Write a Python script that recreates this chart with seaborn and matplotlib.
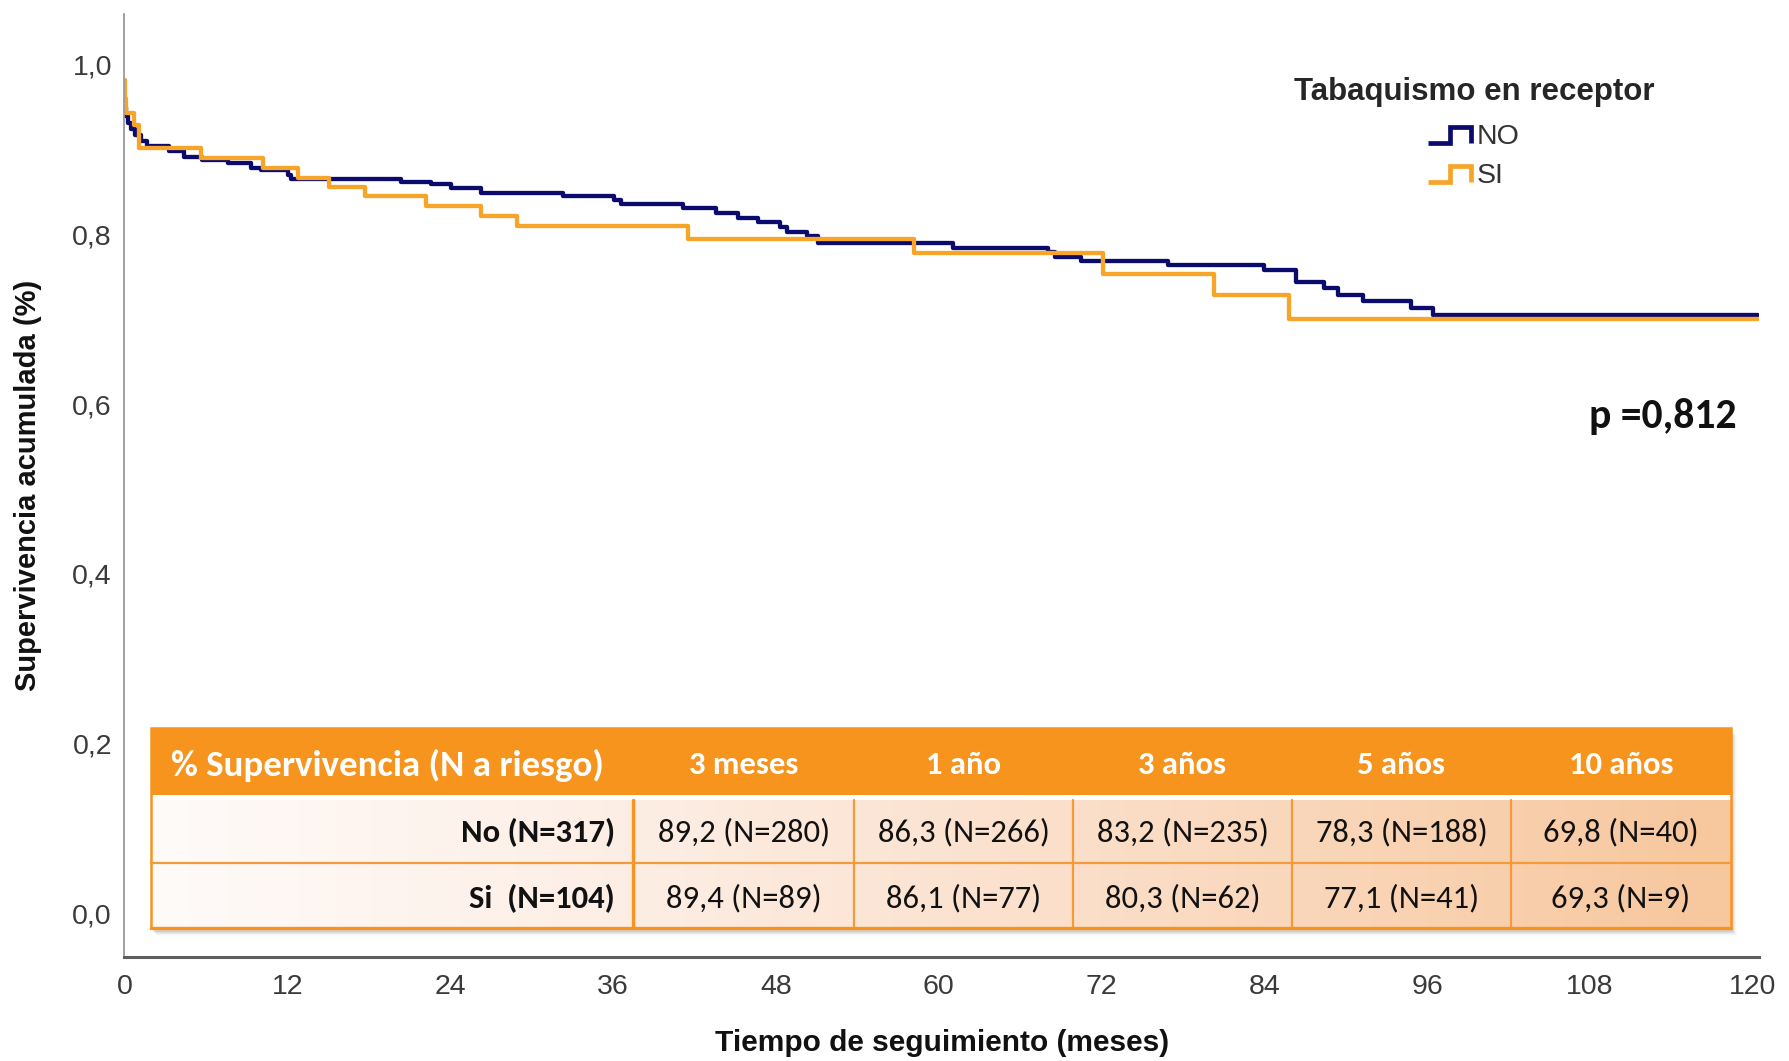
import numpy as np
import pandas as pd
import matplotlib
matplotlib.use("Agg")
import matplotlib.pyplot as plt
import seaborn as sns
from matplotlib.lines import Line2D
from matplotlib.patches import Rectangle
from matplotlib.legend_handler import HandlerBase
from matplotlib.ticker import FuncFormatter
from matplotlib import font_manager

# ---------------- data ----------------
months_no = [0, 0.05, 0.15, 0.3, 0.5, 0.8, 1.2, 1.7, 3.3, 4.4, 5.7, 7.6, 9.3, 10.1, 12.05, 12.3,
             20.4, 22.6, 24.1, 26.3, 32.3, 36.1, 36.6, 41.2, 43.6, 45.2, 46.7, 48.3, 48.8, 50.3,
             51.1, 61.06, 68.06, 68.55, 70.5, 76.9, 84.0, 86.35, 88.4, 89.4, 91.3, 94.8, 96.4, 120.4]
surv_no = [0.962, 0.950, 0.940, 0.932, 0.925, 0.918, 0.910, 0.905, 0.898, 0.892, 0.888, 0.884,
           0.879, 0.876, 0.870, 0.866, 0.862, 0.860, 0.855, 0.849, 0.846, 0.841, 0.836, 0.831,
           0.825, 0.820, 0.815, 0.809, 0.803, 0.798, 0.790, 0.7845, 0.780, 0.774, 0.769, 0.764,
           0.758, 0.7445, 0.737, 0.729, 0.722, 0.713, 0.705, 0.705]

months_si = [0, 0.02, 0.1, 0.68, 1.05, 5.67, 10.2, 12.8, 15.1, 17.7, 22.2, 26.3, 28.9, 41.5,
             58.2, 72.1, 80.3, 85.8, 120.4]
surv_si = [0.982, 0.960, 0.943, 0.929, 0.902, 0.890, 0.879, 0.867, 0.856, 0.845, 0.8335, 0.822,
           0.810, 0.795, 0.778, 0.7535, 0.729, 0.700, 0.700]

group_labels = ["NO", "SI"]
legend_title = "Tabaquismo en receptor"
x_ticks = [0, 12, 24, 36, 48, 60, 72, 84, 96, 108, 120]
y_ticks = [0.0, 0.2, 0.4, 0.6, 0.8, 1.0]
x_label = "Tiempo de seguimiento (meses)"
y_label = "Supervivencia acumulada (%)"
p_text = "p =0,812"

table_corner = "% Supervivencia (N a riesgo)"
col_headers = ["3 meses", "1 año", "3 años", "5 años", "10 años"]
row_labels = ["No (N=317)", "Si  (N=104)"]
pct_no = ["89,2", "86,3", "83,2", "78,3", "69,8"]
n_no = [280, 266, 235, 188, 40]
pct_si = ["89,4", "86,1", "80,3", "77,1", "69,3"]
n_si = [89, 77, 62, 41, 9]

# ---------------- style ----------------
sns.set_style("white")
plt.rcParams["font.family"] = ["Liberation Sans", "DejaVu Sans"]
names = {f.name for f in font_manager.fontManager.ttflist}
tfont = "Carlito" if "Carlito" in names else "Lato"
tsize = 23.5 if tfont == "Carlito" else 21

NAVY = "#0b0b6e"
ORANGE = "#f6a528"
HEAD = "#f7941d"
BORDER = "#f39a3a"

W, H = 1790, 1061
fig = plt.figure(figsize=(W / 100, H / 100), dpi=100)
ax = fig.add_axes([124.4 / W, 0.0980, (1759.2 - 124.4) / W, 0.8891])

df = pd.concat([
    pd.DataFrame({"t": months_no, "s": surv_no, "g": group_labels[0]}),
    pd.DataFrame({"t": months_si, "s": surv_si, "g": group_labels[1]}),
], ignore_index=True)

sns.lineplot(data=df, x="t", y="s", hue="g", hue_order=group_labels,
             palette={group_labels[0]: NAVY, group_labels[1]: ORANGE},
             estimator=None, sort=False, drawstyle="steps-post",
             linewidth=3.1, legend=False, ax=ax)

ax.set_xlim(0, 120.47)
ax.set_ylim(-0.0519, 1.0605)
ax.set_xticks(x_ticks)
ax.set_yticks(y_ticks)
ax.yaxis.set_major_formatter(FuncFormatter(lambda v, p: f"{v:.1f}".replace(".", ",")))
ax.tick_params(axis="both", length=0, labelsize=20.5, labelcolor="#3a3a3a")
ax.tick_params(axis="x", pad=12)
ax.tick_params(axis="y", pad=9)
for s in ["top", "right"]:
    ax.spines[s].set_visible(False)
ax.spines["left"].set_color("#9a9a9a")
ax.spines["left"].set_linewidth(1.3)
ax.spines["bottom"].set_color("#5e5e5e")
ax.spines["bottom"].set_linewidth(2.2)
ax.set_xlabel(x_label, fontsize=21.5, fontweight="bold", color="#111111", labelpad=21)
ax.set_ylabel(y_label, fontsize=21, fontweight="bold", color="#111111", labelpad=22)


class StepHandler(HandlerBase):
    def create_artists(self, legend, orig_handle, xdescent, ydescent, width, height,
                       fontsize, trans):
        x0, y0 = -xdescent, -ydescent
        xs = [x0, x0 + 0.5 * width, x0 + 0.5 * width, x0 + width, x0 + width]
        ys = [y0 + 0.05 * height, y0 + 0.05 * height, y0 + 0.85 * height,
              y0 + 0.85 * height, y0 + 0.05 * height]
        ln = Line2D(xs, ys, color=orig_handle.get_color(), lw=3.4,
                    solid_joinstyle="miter", solid_capstyle="butt")
        ln.set_transform(trans)
        return [ln]


handles = ax.get_lines()[:2]
leg = ax.legend(handles, group_labels, title=legend_title,
                handler_map={Line2D: StepHandler()},
                loc="upper center", bbox_to_anchor=(1474 / W, 1 - 63 / H),
                bbox_transform=fig.transFigure, frameon=False, fontsize=20.5,
                title_fontproperties={"weight": "bold", "size": 22.5},
                handlelength=1.5, handletextpad=0.2, labelspacing=0.45, borderpad=0)
for t in leg.get_texts():
    t.set_color("#333333")
leg._legend_box.sep = 12

fig.text(1737 / W, 1 - 416 / H, p_text, ha="right", va="center", fontsize=30,
         fontweight="bold", family=tfont, color="#111111")

# ---------------- table ----------------
tx0, tx1, ty0, ty1 = 140, 1745, 720, 945
tax = fig.add_axes([tx0 / W, 1 - ty1 / H, (tx1 - tx0) / W, (ty1 - ty0) / H], zorder=5)
tax.set_xlim(tx0, tx1)
tax.set_ylim(ty1, ty0)
tax.axis("off")

L, R = 151, 1731
HT, HB = 728, 795
BT, RM, BB = 800, 863, 928
col_edges = [L, 634, 854, 1073, 1292, 1511, R]

# shadow
for i, a in enumerate([0.10, 0.08, 0.06, 0.04, 0.025]):
    tax.add_patch(Rectangle((L + 2 + i, HT + 4 + i), R - L, BB - HT, facecolor="#555555",
                            edgecolor="none", alpha=a, zorder=0))

# body gradient
stops = np.array([[255, 251, 249], [253, 238, 229], [251, 222, 200], [247, 199, 157]]) / 255
sx = np.array([0, 0.3, 0.6, 1.0])
gx = np.linspace(0, 1, 400)
grad = np.stack([np.interp(gx, sx, stops[:, k]) for k in range(3)], axis=-1)[None, :, :]
tax.add_patch(Rectangle((L, HT), R - L, BB - HT, facecolor="white", edgecolor="none", zorder=1))
tax.imshow(grad, extent=(L, R, BB, BT), aspect="auto", zorder=2, interpolation="bilinear")
tax.add_patch(Rectangle((L, HT), R - L, HB - HT, facecolor=HEAD, edgecolor="none", zorder=3))

lw_b = 1.8
tax.add_patch(Rectangle((L, HT), R - L, BB - HT, facecolor="none", edgecolor=HEAD,
                        linewidth=lw_b, zorder=4))
for xe in col_edges[1:-1]:
    tax.plot([xe, xe], [BT, BB], color=BORDER, lw=1.6, zorder=4)
tax.plot([col_edges[1] - 0.5, col_edges[1] - 0.5], [BT, BB], color=HEAD, lw=2.4, zorder=4)
tax.plot([L, R], [RM, RM], color=BORDER, lw=1.6, zorder=4)
tax.plot([L, R], [BB, BB], color=HEAD, lw=2.4, zorder=4)

hy = (HT + HB) / 2 + 4
tax.text(171, hy, table_corner, ha="left", va="center", color="white", fontsize=tsize * 1.13,
         fontweight="bold", family=tfont, zorder=6)
for i, h in enumerate(col_headers):
    cx = (col_edges[i + 1] + col_edges[i + 2]) / 2
    tax.text(cx, hy, h, ha="center", va="center", color="white", fontsize=tsize,
             fontweight="bold", family=tfont, zorder=6)

rows = [(row_labels[0], pct_no, n_no, (BT + RM) / 2 + 1),
        (row_labels[1], pct_si, n_si, (RM + BB) / 2 + 3)]
for lab, pcts, ns, ry in rows:
    tax.text(615, ry, lab, ha="right", va="center", color="#111111", fontsize=tsize,
             fontweight="bold", family=tfont, zorder=6)
    for i, (p, n) in enumerate(zip(pcts, ns)):
        cx = (col_edges[i + 1] + col_edges[i + 2]) / 2
        tax.text(cx, ry, f"{p} (N={n})", ha="center", va="center", color="#111111",
                 fontsize=tsize, family=tfont, zorder=6)

fig.savefig("out.png", dpi=100)
